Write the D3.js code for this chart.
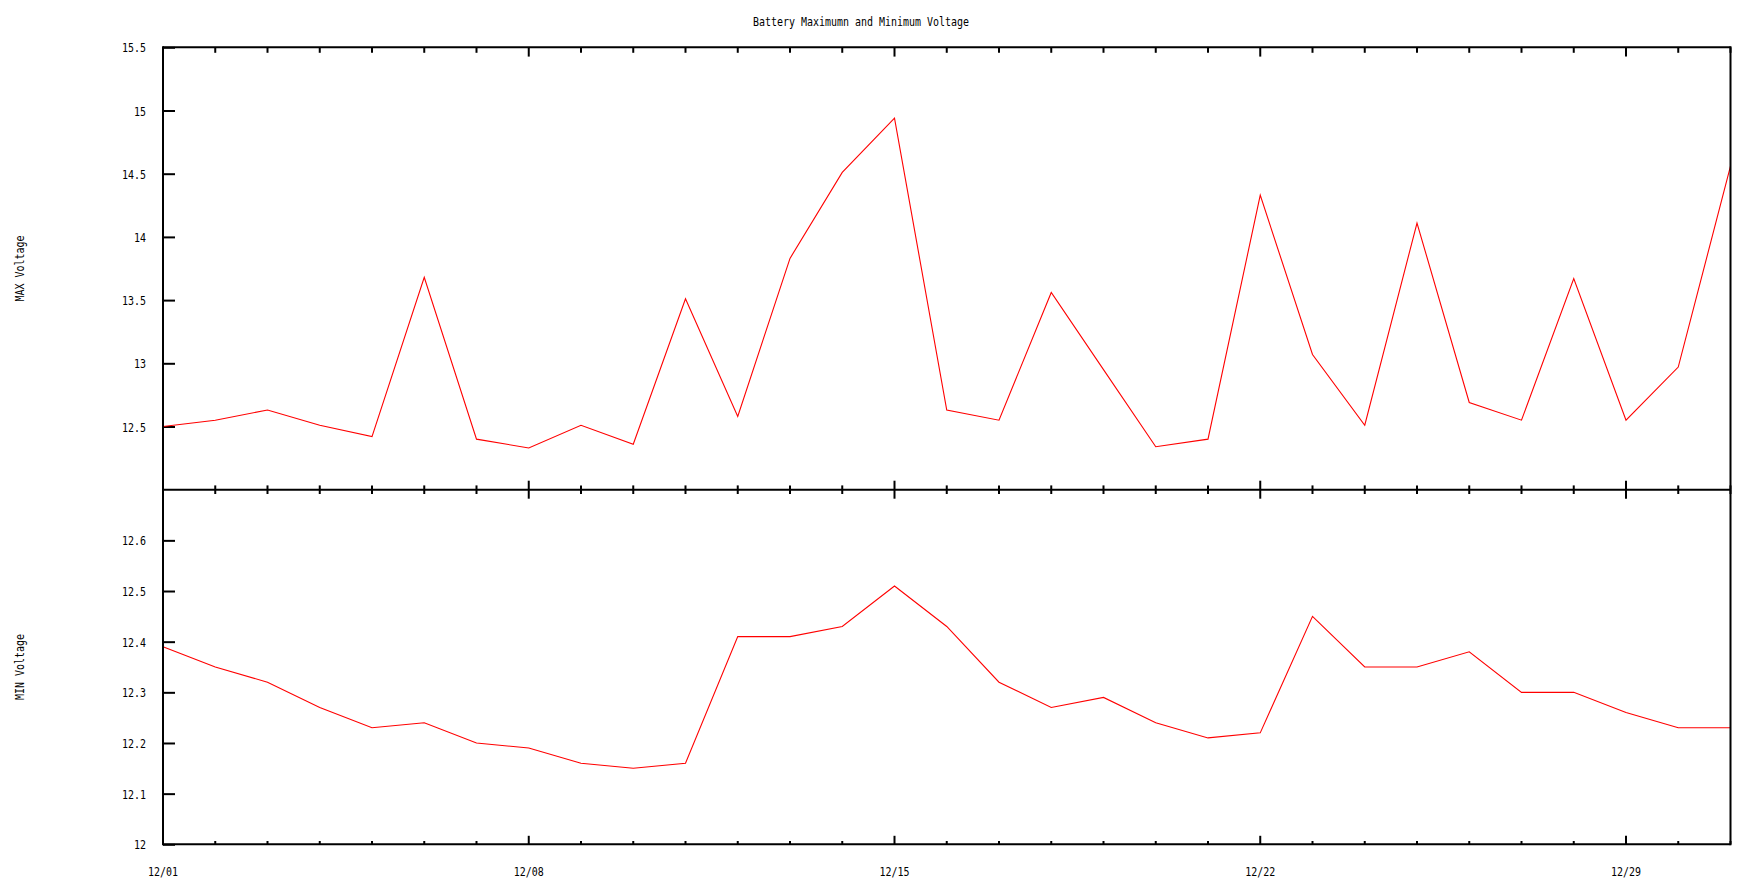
<!DOCTYPE html>
<html>
<head>
<meta charset="utf-8">
<script src="https://cdn.jsdelivr.net/npm/d3@7"></script>
<style>
html, body { margin: 0; padding: 0; background: #fff; }
svg { display: block; }
text { font-family: "DejaVu Sans Mono", "Liberation Mono", monospace; font-size: 13px; fill: #000; }
</style>
</head>
<body>
<svg id="chart" width="1742" height="895"></svg>
<script>
// ---- data ----
const days = ["12/01","12/02","12/03","12/04","12/05","12/06","12/07","12/08","12/09","12/10",
  "12/11","12/12","12/13","12/14","12/15","12/16","12/17","12/18","12/19","12/20",
  "12/21","12/22","12/23","12/24","12/25","12/26","12/27","12/28","12/29","12/30","12/31"];
const maxVoltage = [12.50,12.55,12.63,12.51,12.42,13.68,12.40,12.33,12.51,12.36,
  13.51,12.58,13.83,14.51,14.94,12.63,12.55,13.56,12.95,12.34,
  12.40,14.33,13.07,12.51,14.11,12.69,12.55,13.67,12.55,12.97,14.56];
const minVoltage = [12.39,12.35,12.32,12.27,12.23,12.24,12.20,12.19,12.16,12.15,
  12.16,12.41,12.41,12.43,12.51,12.43,12.32,12.27,12.29,12.24,
  12.21,12.22,12.45,12.35,12.35,12.38,12.30,12.30,12.26,12.23,12.23];
const maxTicks = [12.5, 13, 13.5, 14, 14.5, 15, 15.5];
const minTicks = [12, 12.1, 12.2, 12.3, 12.4, 12.5, 12.6];
const dateLabels = ["12/01","12/08","12/15","12/22","12/29"];
const title = "Battery Maximumn and Minimum Voltage";
const maxLabel = "MAX Voltage";
const minLabel = "MIN Voltage";

// ---- layout ----
const L = 163, R = 1730.5;
const topY0 = 47.3, midY = 489.7, botY = 844.3;
const CW = 6; // char width of bitmap-like font

const svg = d3.select("#chart");
const x = d3.scalePoint().domain(days).range([L, R]);
const yMax = d3.scaleLinear().domain([12, 15.5]).range([midY, topY0]);
const yMin = d3.scaleLinear().domain([12, 12.7]).range([botY, midY]);

function fit(sel) {
  sel.each(function() {
    const t = d3.select(this).text();
    d3.select(this).attr("textLength", t.length * CW).attr("lengthAdjust", "spacingAndGlyphs");
  });
}

// title
svg.append("text").attr("x", 861).attr("y", 21).attr("dy", "0.35em")
  .attr("text-anchor", "middle").text(title).call(fit);

// y axis labels
svg.append("text").attr("transform", `translate(19,${(topY0 + midY) / 2}) rotate(-90)`)
  .attr("dy", "0.35em").attr("text-anchor", "middle").text(maxLabel).call(fit);
svg.append("text").attr("transform", `translate(19,${(midY + botY) / 2}) rotate(-90)`)
  .attr("dy", "0.35em").attr("text-anchor", "middle").text(minLabel).call(fit);

// y axes (ticks pointing inward, labels on left)
function yAxis(scale, ticks) {
  const g = svg.append("g").attr("transform", `translate(${L},0)`)
    .call(d3.axisRight(scale).tickValues(ticks).tickSize(12).tickFormat(d3.format("")));
  g.select(".domain").remove();
  g.selectAll(".tick line").attr("stroke", "#000").attr("stroke-width", 2);
  g.selectAll(".tick text").attr("x", -17).attr("text-anchor", "end")
    .attr("dy", "0.35em").attr("fill", "#000").call(fit);
  g.attr("font-family", null).attr("font-size", null);
}
yAxis(yMax, maxTicks);
yAxis(yMin, minTicks);

// x ticks
function xTicks(yPos, dir, minorLen, majorLen) {
  svg.append("g").selectAll("line").data(days).join("line")
    .attr("x1", d => x(d)).attr("x2", d => x(d))
    .attr("y1", yPos)
    .attr("y2", d => yPos + dir * (dateLabels.includes(d) ? majorLen : minorLen))
    .attr("stroke", "#000").attr("stroke-width", 2);
}
xTicks(topY0, 1, 5.5, 9.3);
xTicks(midY, -1, 4.3, 9);
xTicks(midY, 1, 4.3, 9);
xTicks(botY, -1, 3.3, 8.5);

// x labels
svg.append("g").selectAll("text").data(dateLabels).join("text")
  .attr("x", d => x(d)).attr("y", 871.5).attr("dy", "0.35em")
  .attr("text-anchor", "middle").text(d => d).call(fit);

// lines
const lineMax = d3.line().x((d, i) => x(days[i])).y(d => yMax(d));
const lineMin = d3.line().x((d, i) => x(days[i])).y(d => yMin(d));
svg.append("path").datum(maxVoltage).attr("d", lineMax)
  .attr("fill", "none").attr("stroke", "#ff0000").attr("stroke-width", 1.1);
svg.append("path").datum(minVoltage).attr("d", lineMin)
  .attr("fill", "none").attr("stroke", "#ff0000").attr("stroke-width", 1.1);

// borders
const border = svg.append("g").attr("stroke", "#000").attr("stroke-width", 2).attr("fill", "none");
border.append("line").attr("x1", L).attr("x2", R).attr("y1", topY0).attr("y2", topY0);
border.append("line").attr("x1", L).attr("x2", R).attr("y1", midY).attr("y2", midY);
border.append("line").attr("x1", L).attr("x2", R).attr("y1", botY).attr("y2", botY);
border.append("line").attr("x1", L).attr("x2", L).attr("y1", topY0 - 1).attr("y2", botY + 1);
border.append("line").attr("x1", R).attr("x2", R).attr("y1", topY0 - 1).attr("y2", botY + 1);
</script>
</body>
</html>
